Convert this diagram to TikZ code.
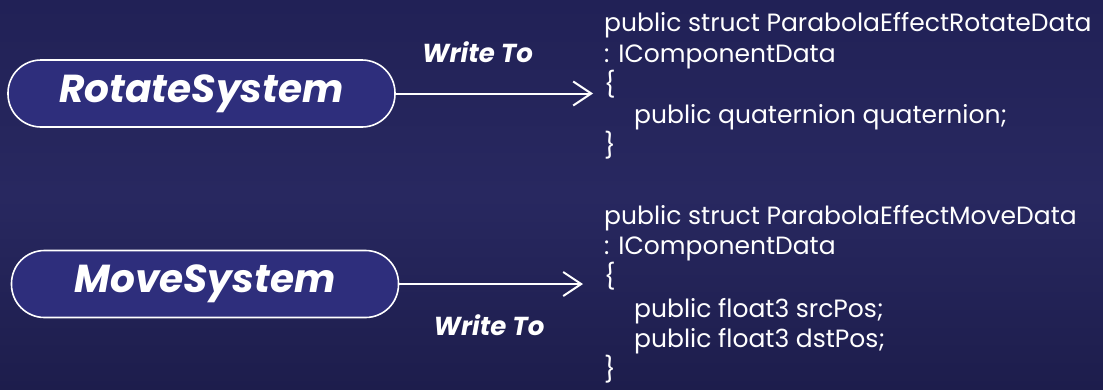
\documentclass[tikz,border=0pt]{standalone}
\usepackage{fontspec}
\setmainfont{Poppins}
\usetikzlibrary{arrows.meta}
\definecolor{navy}{RGB}{33,33,86}
\definecolor{navylow}{RGB}{29,29,76}
\definecolor{navyglow}{RGB}{40,40,96}
\definecolor{pill}{RGB}{46,46,124}

\tikzset{
  sysbox/.style={draw=white, line width=1.6pt, fill=pill, rounded corners=33pt,
    minimum width=387pt, minimum height=67pt, inner sep=0pt, text=white,
    font=\fontsize{39}{39}\selectfont\bfseries\itshape},
  writeto/.style={text=white, inner sep=0pt, anchor=base,
    font=\fontsize{26}{26}\selectfont\bfseries\itshape},
  codeline/.style={text=white, inner sep=0pt, anchor=base west,
    font=\fontsize{25}{25}\selectfont},
  flow/.style={draw=white, line width=2pt,
    -{Straight Barb[length=18pt,width=24pt,line width=2pt]}}
}

\begin{document}
\begin{tikzpicture}[x=1pt, y=-1pt]
  % background
  \shade[top color=navy, bottom color=navylow, middle color=navyglow] (0,0) rectangle (1103,389);
  \useasboundingbox (0,0) rectangle (1103,389);

  % systems
  \node[sysbox] (rotsys) at (201.5,93.5) {RotateSystem};
  \node[sysbox] (movsys) at (205,284) {MoveSystem};

  % arrow ends
  \coordinate (rotdata) at (593,93.5);
  \coordinate (movdata) at (583,284);
  \draw[flow] (rotsys.east) -- (rotsys.east -| rotdata);
  \draw[flow] (movsys.east) -- (movsys.east -| movdata);

  \node[writeto] (rotlabel) at (477.5,62) {Write To};
  \node[writeto] (movlabel) at (489,335) {Write To};

  % component data code
  \foreach \x/\y/\t [count=\i] in {
      604/31/public struct ParabolaEffectRotateData,
      604/62/: IComponentData,
      604/93/\{,
      634/123/public quaternion quaternion;,
      604/154/\},
      604/224/public struct ParabolaEffectMoveData,
      604/254/: IComponentData,
      604/285/\{,
      634/317/public float3 srcPos;,
      634/347/public float3 dstPos;,
      604/378/\}}
    \node[codeline] (code\i) at (\x,\y) {\t};
\end{tikzpicture}
\end{document}
